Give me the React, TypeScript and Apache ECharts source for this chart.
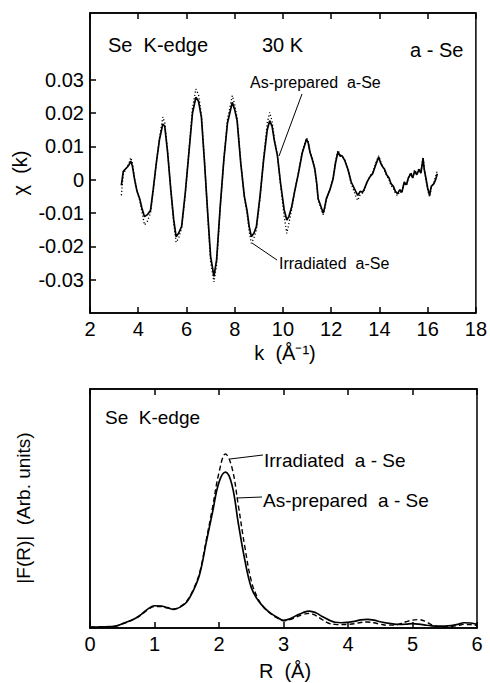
import React, { useEffect, useRef } from "react";
import * as echarts from "echarts";

// ---- χ(k) spectra, Se K-edge, 30 K ----
const kValues = [
  3.30, 3.38, 3.47, 3.55, 3.62, 3.69, 3.76, 3.85, 3.95, 4.06, 4.15, 4.26, 4.38, 4.51, 4.62, 4.75, 4.88,
  5.02, 5.10, 5.22, 5.35, 5.47, 5.57, 5.68, 5.80, 5.95, 6.10, 6.25, 6.39, 6.50, 6.62, 6.75, 6.88, 7.00,
  7.14, 7.25, 7.40, 7.55, 7.70, 7.90, 8.00, 8.10, 8.25, 8.40, 8.51, 8.60, 8.69, 8.80, 8.90, 9.05, 9.20,
  9.35, 9.45, 9.55, 9.65, 9.77, 9.90, 10.05, 10.16, 10.25, 10.36, 10.50, 10.64, 10.80, 10.98, 11.05,
  11.12, 11.22, 11.32, 11.40, 11.46, 11.55, 11.67, 11.74, 11.80, 11.95, 12.08, 12.18, 12.28, 12.38,
  12.45, 12.56, 12.70, 12.83, 12.95, 13.05, 13.11, 13.20, 13.30, 13.38, 13.50, 13.62, 13.72, 13.85,
  13.97, 14.05, 14.12, 14.20, 14.30, 14.40, 14.48, 14.58, 14.66, 14.75, 14.85, 14.93, 15.03, 15.12,
  15.20, 15.30, 15.38, 15.46, 15.55, 15.64, 15.72, 15.81, 15.86, 15.92, 16.00, 16.08, 16.15, 16.26,
  16.33, 16.40,
];

const chiAsPrepared = [
  -0.0017, 0.0025, 0.0032, 0.0038, 0.0045, 0.0056, 0.0040, 0.0000, -0.0035, -0.0057, -0.0085, -0.0111,
  -0.0105, -0.0092, -0.0030, 0.0050, 0.0120, 0.0167, 0.0160, 0.0080, -0.0030, -0.0120, -0.0171, -0.0160,
  -0.0140, -0.0040, 0.0080, 0.0200, 0.0247, 0.0235, 0.0187, 0.0050, -0.0100, -0.0230, -0.0290, -0.0240,
  -0.0080, 0.0060, 0.0170, 0.0232, 0.0210, 0.0177, 0.0050, -0.0050, -0.0092, -0.0140, -0.0171, -0.0160,
  -0.0141, -0.0050, 0.0060, 0.0150, 0.0177, 0.0160, 0.0115, 0.0073, -0.0010, -0.0090, -0.0121, -0.0110,
  -0.0082, -0.0030, 0.0018, 0.0080, 0.0122, 0.0110, 0.0083, 0.0060, 0.0033, -0.0010, -0.0057, -0.0075,
  -0.0101, -0.0080, -0.0057, -0.0030, 0.0003, 0.0050, 0.0083, 0.0070, 0.0072, 0.0058, 0.0030, -0.0007,
  -0.0025, -0.0040, -0.0047, -0.0035, -0.0038, -0.0027, -0.0005, 0.0010, 0.0018, 0.0045, 0.0068, 0.0050,
  0.0040, 0.0033, 0.0015, 0.0005, -0.0012, -0.0020, -0.0035, -0.0042, -0.0030, -0.0038, -0.0007, -0.0015,
  0.0005, 0.0018, 0.0005, 0.0025, 0.0015, 0.0030, 0.0020, 0.0063, 0.0030, 0.0008, -0.0025, -0.0047,
  -0.0020, -0.0012, 0.0000, 0.0018,
];

const chiIrradiated = [
  -0.0047, 0.0015, 0.0030, 0.0040, 0.0050, 0.0066, 0.0050, 0.0005, -0.0035, -0.0062, -0.0095, -0.0136,
  -0.0125, -0.0100, -0.0035, 0.0050, 0.0125, 0.0188, 0.0170, 0.0085, -0.0030, -0.0130, -0.0188, -0.0175,
  -0.0145, -0.0045, 0.0085, 0.0215, 0.0272, 0.0255, 0.0195, 0.0055, -0.0105, -0.0245, -0.0307, -0.0255,
  -0.0085, 0.0060, 0.0180, 0.0252, 0.0225, 0.0185, 0.0055, -0.0055, -0.0100, -0.0155, -0.0191, -0.0175,
  -0.0150, -0.0055, 0.0065, 0.0170, 0.0202, 0.0175, 0.0120, 0.0075, -0.0015, -0.0110, -0.0161, -0.0130,
  -0.0090, -0.0030, 0.0020, 0.0085, 0.0125, 0.0115, 0.0085, 0.0065, 0.0030, -0.0015, -0.0060, -0.0080,
  -0.0105, -0.0085, -0.0060, -0.0030, 0.0005, 0.0055, 0.0088, 0.0075, 0.0070, 0.0060, 0.0028, -0.0012,
  -0.0035, -0.0055, -0.0062, -0.0045, -0.0040, -0.0030, -0.0005, 0.0012, 0.0022, 0.0050, 0.0072, 0.0055,
  0.0042, 0.0030, 0.0012, 0.0000, -0.0018, -0.0025, -0.0040, -0.0048, -0.0035, -0.0040, -0.0010, -0.0018,
  0.0005, 0.0022, 0.0008, 0.0030, 0.0018, 0.0035, 0.0022, 0.0068, 0.0035, 0.0005, -0.0030, -0.0052,
  -0.0025, -0.0008, 0.0010, 0.0028,
];

const kTicks = [2, 4, 6, 8, 10, 12, 14, 16, 18];
const chiTicks = [-0.03, -0.02, -0.01, 0, 0.01, 0.02, 0.03];

// ---- |F(R)| Fourier transforms ----
const rValues = [
  0.0, 0.1, 0.2, 0.3, 0.4, 0.5, 0.6, 0.7, 0.8, 0.9, 1.0, 1.1, 1.2, 1.3, 1.4, 1.5, 1.6, 1.7, 1.8, 1.9,
  2.0, 2.1, 2.2, 2.3, 2.4, 2.5, 2.6, 2.7, 2.8, 2.9, 3.0, 3.1, 3.2, 3.3, 3.4, 3.5, 3.6, 3.7, 3.8, 3.9,
  4.0, 4.1, 4.2, 4.3, 4.4, 4.5, 4.6, 4.7, 4.8, 4.9, 5.0, 5.1, 5.2, 5.3, 5.4, 5.5, 5.6, 5.7, 5.8, 5.9,
  6.0,
];

const ftAsPrepared = [
  0.004, 0.004, 0.005, 0.006, 0.008, 0.018, 0.028, 0.040, 0.058, 0.080, 0.093, 0.092, 0.085, 0.078,
  0.088, 0.109, 0.155, 0.225, 0.355, 0.485, 0.610, 0.652, 0.600, 0.437, 0.285, 0.170, 0.118, 0.085,
  0.062, 0.045, 0.032, 0.038, 0.052, 0.064, 0.071, 0.064, 0.048, 0.034, 0.024, 0.022, 0.024, 0.028,
  0.034, 0.036, 0.033, 0.026, 0.021, 0.017, 0.015, 0.016, 0.018, 0.016, 0.012, 0.009, 0.008, 0.008,
  0.010, 0.015, 0.022, 0.021, 0.015,
];

const ftIrradiated = [
  0.003, 0.003, 0.004, 0.005, 0.008, 0.017, 0.027, 0.039, 0.056, 0.077, 0.090, 0.090, 0.084, 0.080,
  0.090, 0.112, 0.160, 0.232, 0.365, 0.505, 0.650, 0.728, 0.672, 0.512, 0.340, 0.198, 0.125, 0.085,
  0.060, 0.042, 0.030, 0.035, 0.046, 0.056, 0.061, 0.052, 0.035, 0.020, 0.015, 0.014, 0.015, 0.018,
  0.023, 0.025, 0.022, 0.016, 0.012, 0.012, 0.017, 0.026, 0.033, 0.035, 0.028, 0.013, 0.006, 0.004,
  0.006, 0.010, 0.015, 0.014, 0.011,
];

const rTicks = [0, 1, 2, 3, 4, 5, 6];

const FONT = "Liberation Sans, Arial, sans-serif";
const INK = "#000";

const pairs = (xs: number[], ys: number[]) => xs.map((x, i) => [x, ys[i]]);

export default function App() {
  const ref = useRef<HTMLDivElement>(null);

  useEffect(() => {
    if (!ref.current) return;
    const chart = echarts.init(ref.current, undefined, { renderer: "svg" });

    const tickLabel = { color: INK, fontSize: 20, fontFamily: FONT };
    const innerTick = { show: true, inside: true, length: 6, lineStyle: { color: INK, width: 1.5 } };
    const axisLine = { show: true, onZero: false, lineStyle: { color: INK, width: 1.5 } };

    const text = (t: string, x: number, y: number, size: number, extra: any = {}) => ({
      type: "text",
      x,
      y,
      silent: true,
      rotation: extra.rotation || 0,
      style: {
        text: t,
        fill: INK,
        fontSize: size,
        fontFamily: FONT,
        align: extra.align || "left",
        verticalAlign: "middle",
      },
    });
    const line = (x1: number, y1: number, x2: number, y2: number) => ({
      type: "line",
      silent: true,
      shape: { x1, y1, x2, y2 },
      style: { stroke: INK, lineWidth: 1 },
    });

    chart.setOption({
      animation: false,
      backgroundColor: "#fff",
      grid: [
        { left: 90, top: 13, width: 389, height: 300, show: true, borderColor: INK, borderWidth: 1.5, backgroundColor: "transparent" },
        { left: 90, top: 389, width: 387, height: 239, show: true, borderColor: INK, borderWidth: 1.5, backgroundColor: "transparent" },
      ],
      xAxis: [
        {
          gridIndex: 0, type: "value", min: 2, max: 18, interval: 2, position: "bottom",
          axisLine, axisTick: innerTick, splitLine: { show: false },
          axisLabel: { ...tickLabel, margin: 6, customValues: kTicks },
        },
        {
          gridIndex: 0, type: "value", min: 2, max: 18, interval: 2, position: "top",
          axisLine, axisTick: innerTick, splitLine: { show: false }, axisLabel: { show: false },
        },
        {
          gridIndex: 1, type: "value", min: 0, max: 6, interval: 1, position: "bottom",
          axisLine, axisTick: innerTick, splitLine: { show: false },
          axisLabel: { ...tickLabel, margin: 6, customValues: rTicks },
        },
        {
          gridIndex: 1, type: "value", min: 0, max: 6, interval: 1, position: "top",
          axisLine, axisTick: innerTick, splitLine: { show: false }, axisLabel: { show: false },
        },
      ],
      yAxis: [
        {
          gridIndex: 0, type: "value", min: -0.04, max: 0.05, interval: 0.01,
          axisLine, splitLine: { show: false },
          axisTick: { ...innerTick, customValues: chiTicks },
          axisLabel: {
            ...tickLabel,
            margin: 6,
            customValues: chiTicks,
            formatter: (v: number) => (Math.abs(v) < 1e-9 ? "0" : v.toFixed(2)),
          },
        },
        {
          gridIndex: 1, type: "value", min: 0, max: 1,
          axisLine, splitLine: { show: false }, axisTick: { show: false }, axisLabel: { show: false },
        },
      ],
      series: [
        {
          name: "Irradiated a-Se", type: "line", xAxisIndex: 0, yAxisIndex: 0,
          data: pairs(kValues, chiIrradiated), showSymbol: false, silent: true,
          lineStyle: { color: INK, width: 1.3, type: [1.2, 2.2] },
        },
        {
          name: "As-prepared a-Se", type: "line", xAxisIndex: 0, yAxisIndex: 0,
          data: pairs(kValues, chiAsPrepared), showSymbol: false, silent: true,
          lineStyle: { color: INK, width: 1.7 },
        },
        {
          name: "Irradiated a-Se", type: "line", xAxisIndex: 2, yAxisIndex: 1,
          data: pairs(rValues, ftIrradiated), showSymbol: false, silent: true, smooth: 0.4,
          lineStyle: { color: INK, width: 1.4, type: [5, 3] },
        },
        {
          name: "As-prepared a-Se", type: "line", xAxisIndex: 2, yAxisIndex: 1,
          data: pairs(rValues, ftAsPrepared), showSymbol: false, silent: true, smooth: 0.4,
          lineStyle: { color: INK, width: 1.7 },
        },
      ],
      graphic: [
        // upper panel captions
        text("Se  K-edge", 108, 45, 20),
        text("30 K", 262, 45, 20),
        text("a - Se", 410, 50, 20),
        text("As-prepared  a-Se", 250, 82, 16),
        line(302, 94, 279, 156),
        text("Irradiated  a-Se", 279, 263, 16),
        line(252, 243, 277, 260),
        // upper panel axis names
        text("k  (Å⁻¹)", 285, 353, 20, { align: "center" }),
        text("χ  (k)", 20, 173, 20, { align: "center", rotation: Math.PI / 2 }),
        // lower panel captions
        text("Se  K-edge", 105, 417, 19),
        text("Irradiated  a - Se", 264, 460, 19),
        line(230, 459, 263, 455),
        text("As-prepared  a - Se", 263, 500, 19),
        line(237, 498, 262, 497),
        // lower panel axis names
        text("R  (Å)", 285, 671, 20, { align: "center" }),
        text("|F(R)|  (Arb. units)", 23, 508, 19, { align: "center", rotation: Math.PI / 2 }),
      ],
    });

    return () => chart.dispose();
  }, []);

  return (
    <div
      ref={ref}
      style={{ position: "absolute", left: 0, top: 0, width: 490, height: 683, background: "#fff" }}
    />
  );
}
